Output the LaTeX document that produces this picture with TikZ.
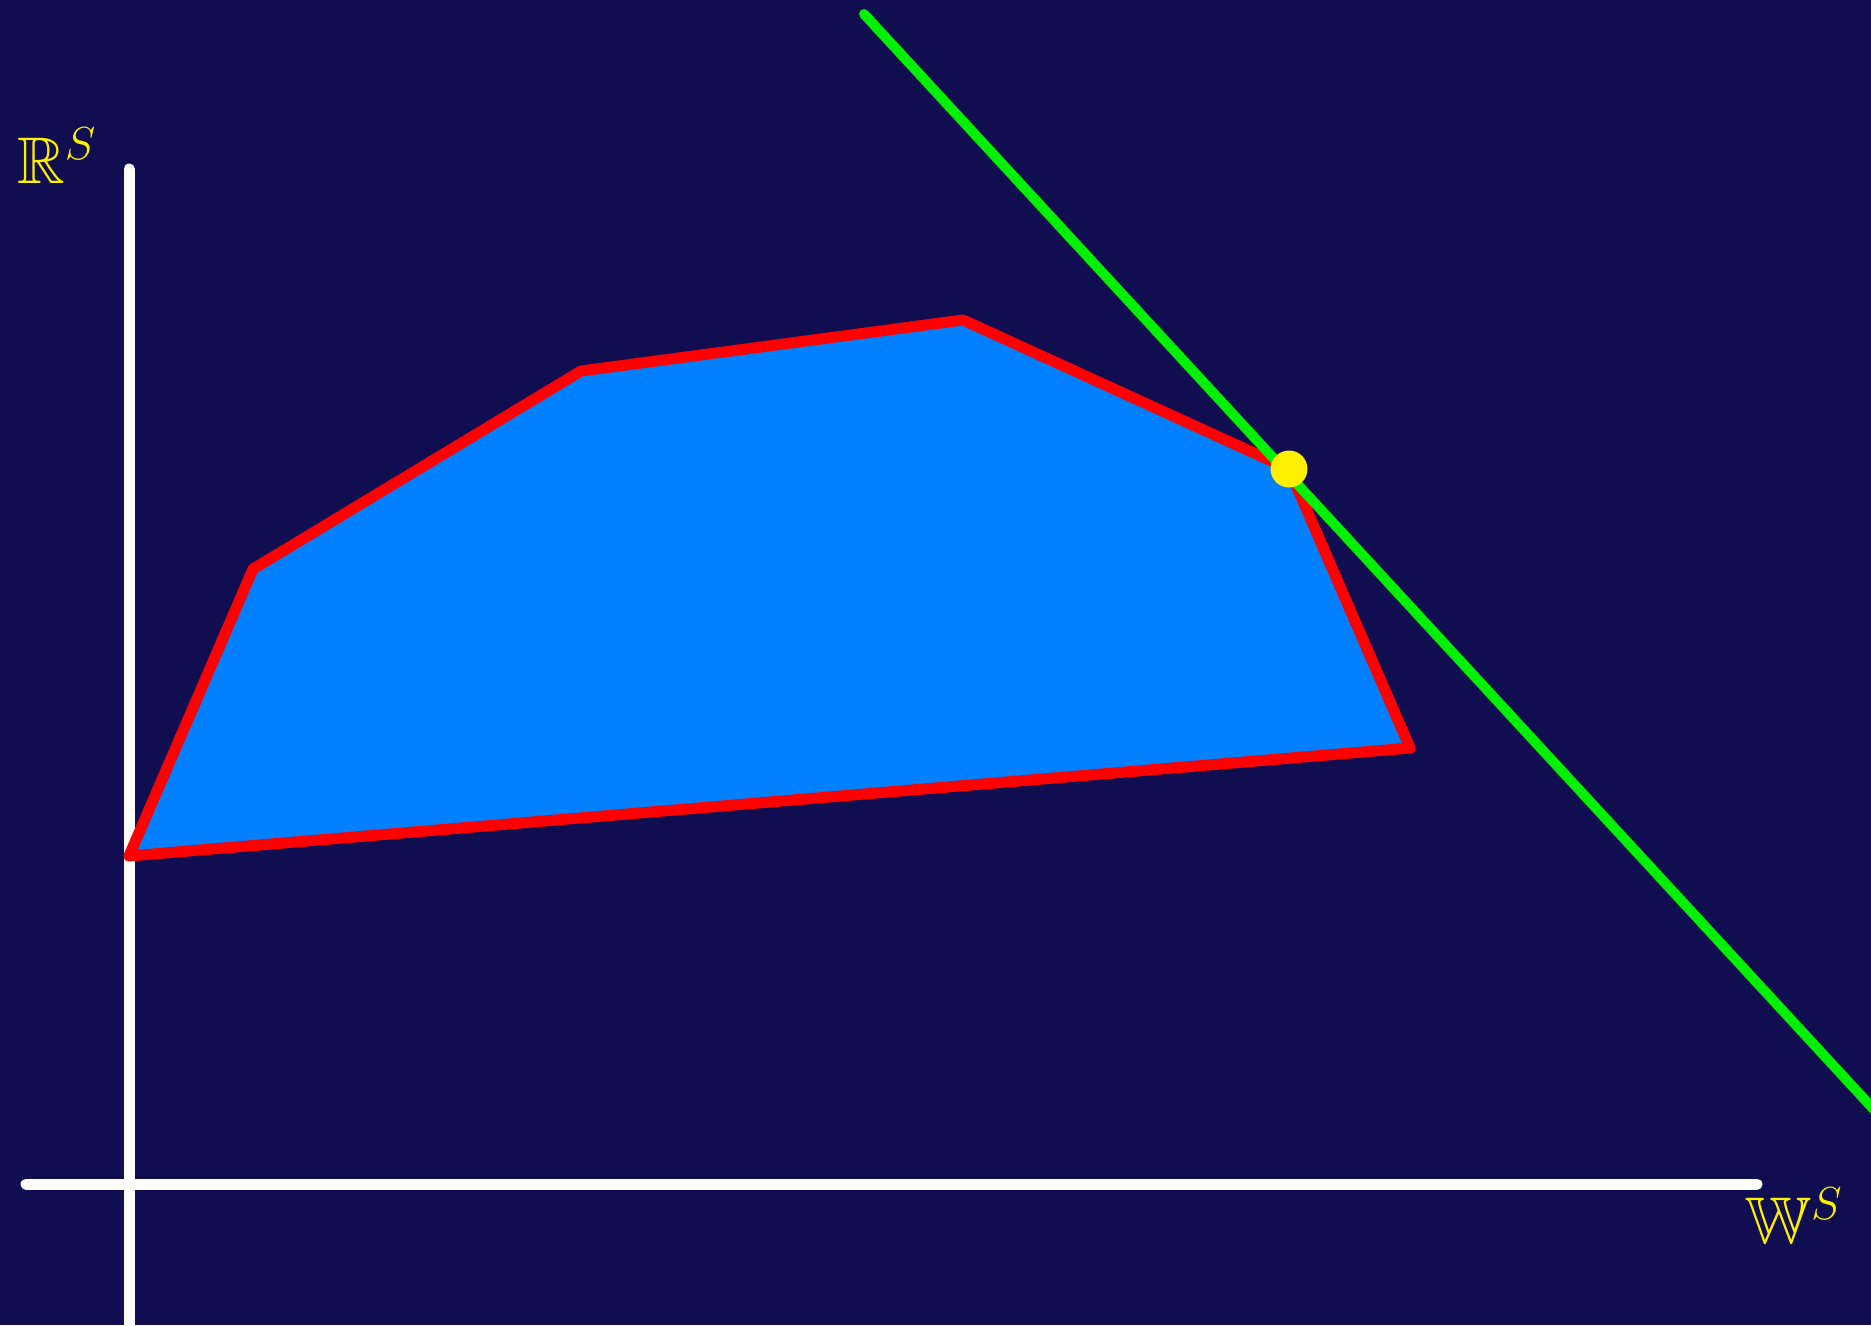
\RequirePackage{fix-cm}
\documentclass[tikz,border=0pt]{standalone}
\usepackage{amssymb}
\definecolor{bg}{RGB}{16,14,80}
\definecolor{fillblue}{RGB}{0,128,255}
\definecolor{edgered}{RGB}{255,0,0}
\definecolor{linegreen}{RGB}{0,240,0}
\definecolor{dotyellow}{RGB}{255,240,0}
\tikzset{
  axisline/.style={white, line width=11pt, line cap=round},
  edgeline/.style={edgered, line width=11pt, line join=round, line cap=round},
  supportline/.style={linegreen, line width=10pt, line cap=round},
  dotnode/.style={circle, fill=dotyellow, inner sep=0pt, minimum size=37pt},
  axislabel/.style={text=dotyellow, inner sep=0pt, font=\fontsize{66}{70}\selectfont},
}
\begin{document}
\begin{tikzpicture}[x=1pt, y=-1pt]
\fill[bg] (0,0) rectangle (1871,1325);
\useasboundingbox (0,0) rectangle (1871,1325);
% axes
\coordinate (vtop) at (129,169);
\coordinate (vbot) at (129,1340);
\coordinate (hl) at (26,1184);
\coordinate (hr) at (1757,1184);
\draw[axisline] (vtop) -- (vbot);
\draw[axisline] (hl) -- (hr);
% polygon
\coordinate (p1) at (129,856);
\coordinate (p2) at (253,569);
\coordinate (p3) at (581,371);
\coordinate (p4) at (963,320);
\coordinate (p5) at (1289,469);
\coordinate (p6) at (1410,748);
\fill[fillblue] (p1) -- (p2) -- (p3) -- (p4) -- (p5) -- (p6) -- cycle;
\draw[edgeline] (p1) -- (p2) -- (p3) -- (p4) -- (p5) -- (p6) -- cycle;
% supporting line
\coordinate (g1) at (864,14);
\coordinate (g2) at (1890,1127);
\draw[supportline] (g1) -- (g2);
\node[dotnode] (dot) at (p5) {};
% labels
\node[axislabel, anchor=base west] (rlab) at (17,183) {$\mathbb{R}^{S}$};
\node[axislabel, anchor=base west] (wlab) at (1745,1243) {$\mathbb{W}^{S}$};
\end{tikzpicture}
\end{document}
